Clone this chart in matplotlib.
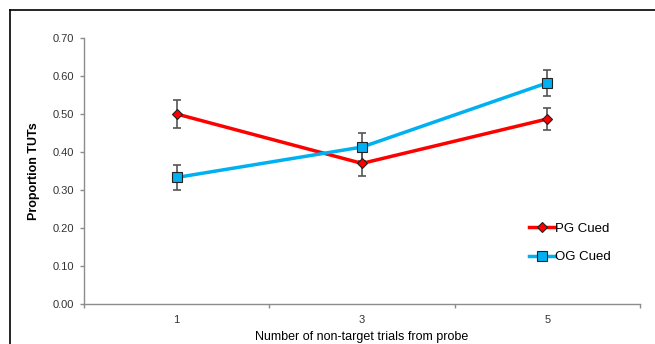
import matplotlib
matplotlib.use("Agg")
import matplotlib.pyplot as plt
from matplotlib.lines import Line2D

categories = ["1", "3", "5"]
pg_values = [0.500, 0.370, 0.487]
pg_errors = [0.038, 0.032, 0.030]
og_values = [0.333, 0.413, 0.582]
og_errors = [0.033, 0.037, 0.035]
y_ticks = [0.0, 0.1, 0.2, 0.3, 0.4, 0.5, 0.6, 0.7]

plt.rcParams['font.family'] = ['Liberation Sans', 'DejaVu Sans']

fig = plt.figure(figsize=(6.55, 3.44), dpi=100)
ax = fig.add_axes([84/655, 1-304/344, (640-84)/655, (304-38)/344])

x = list(range(1, len(categories) + 1))
axis_gray = "#8c8c8c"

ax.errorbar(x, pg_values, yerr=pg_errors, fmt='none', ecolor="#555555",
            elinewidth=1.2, capsize=3, capthick=1.2, zorder=2)
ax.errorbar(x, og_values, yerr=og_errors, fmt='none', ecolor="#555555",
            elinewidth=1.2, capsize=3, capthick=1.2, zorder=2)
ax.plot(x, pg_values, color="#ff0000", lw=2.5, marker='D', markersize=5.5,
        markerfacecolor="#ff0000", markeredgecolor="#222222", markeredgewidth=0.8,
        zorder=3, label="PG Cued")
ax.plot(x, og_values, color="#00b0f0", lw=2.5, marker='s', markersize=7,
        markerfacecolor="#00b0f0", markeredgecolor="#222222", markeredgewidth=0.8,
        zorder=3, label="OG Cued")

ax.set_xlim(0.5, len(categories) + 0.5)
ax.set_ylim(0, 0.7)
ax.set_yticks(y_ticks)
ax.set_yticklabels([f"{v:.2f}" for v in y_ticks], fontsize=8, color="#333333")
ax.set_xticks(x)
ax.set_xticklabels(categories, fontsize=8, color="#333333")
ax.tick_params(axis='x', length=0, pad=8)
ax.set_xticks([b + 0.5 for b in range(0, len(categories) + 1)], minor=True)
ax.tick_params(axis='x', which='minor', length=3, direction='out', color=axis_gray, width=1)
ax.tick_params(axis='y', length=3, direction='out', color=axis_gray, width=1, pad=4)

for s in ['top', 'right']:
    ax.spines[s].set_visible(False)
for s in ['left', 'bottom']:
    ax.spines[s].set_color(axis_gray)
    ax.spines[s].set_linewidth(1)

ax.set_ylabel("Proportion TUTs", fontsize=9, fontweight='bold', labelpad=9)
ax.set_xlabel("Number of non-target trials from probe", fontsize=9, labelpad=4)

leg = ax.legend(loc='upper left', bbox_to_anchor=(0.79, 0.325), frameon=False,
                fontsize=9.5, handlelength=2.0, handletextpad=0.0, labelspacing=1.2,
                borderaxespad=0)

# figure frame
fig.add_artist(Line2D([10/655, 10/655], [0, 1-9.5/344], transform=fig.transFigure,
                      color='black', lw=1.2))
fig.add_artist(Line2D([10/655, 1], [1-9.5/344, 1-9.5/344], transform=fig.transFigure,
                      color='black', lw=1.2))

fig.savefig("out.png", dpi=100)
